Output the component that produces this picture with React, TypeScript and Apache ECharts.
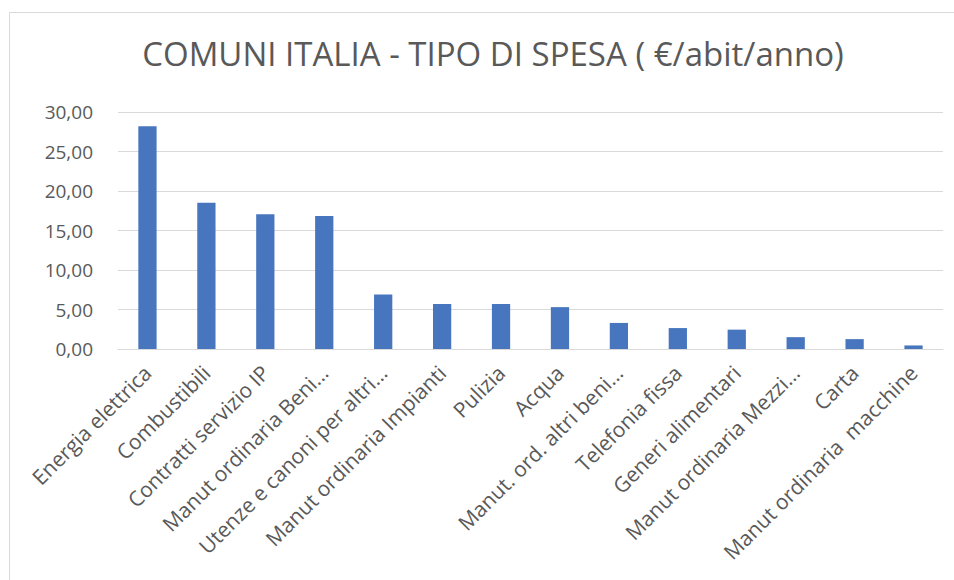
import React, { useEffect, useRef } from "react";
import * as echarts from "echarts";

const titleText = "COMUNI ITALIA - TIPO DI SPESA ( €/abit/anno)";
const categories = [
  "Energia elettrica",
  "Combustibili",
  "Contratti servizio IP",
  "Manut ordinaria Beni…",
  "Utenze e canoni per altri…",
  "Manut ordinaria Impianti",
  "Pulizia",
  "Acqua",
  "Manut. ord. altri beni…",
  "Telefonia fissa",
  "Generi alimentari",
  "Manut ordinaria Mezzi…",
  "Carta",
  "Manut ordinaria  macchine",
];
const values = [28.2, 18.5, 17.05, 16.85, 6.9, 5.7, 5.7, 5.3, 3.3, 2.65, 2.45, 1.5, 1.25, 0.45];
const yMin = 0;
const yMax = 30;
const yStep = 5;

const FONT = "'Open Sans', sans-serif";
const TEXT = "#595959";
const GRID = "#d9d9d9";
const BAR = "#4776bf";

export default function App() {
  const ref = useRef<HTMLDivElement>(null);
  useEffect(() => {
    if (!ref.current) return;
    const chart = echarts.init(ref.current, null, { renderer: "svg" });
    chart.setOption({
      animation: false,
      backgroundColor: "#ffffff",
      title: {
        text: titleText,
        left: 488,
        top: 32,
        textAlign: "center",
        textStyle: { fontFamily: FONT, fontSize: 33, fontWeight: "normal", color: TEXT },
      },
      graphic: [
        {
          type: "rect",
          shape: { x: 9.5, y: 12.5, width: 960, height: 600 },
          style: { fill: "none", stroke: GRID, lineWidth: 1 },
          silent: true,
        },
      ],
      grid: { left: 118, right: 11, top: 112, bottom: 231 },
      xAxis: {
        type: "category",
        data: categories,
        axisLine: { lineStyle: { color: GRID } },
        axisTick: { show: false },
        axisLabel: {
          interval: 0,
          rotate: 45,
          margin: 20,
          color: TEXT,
          fontFamily: FONT,
          fontSize: 21,
        },
      },
      yAxis: {
        type: "value",
        min: yMin,
        max: yMax,
        interval: yStep,
        axisLine: { show: false },
        axisTick: { show: false },
        splitLine: { lineStyle: { color: GRID } },
        axisLabel: {
          margin: 25,
          color: TEXT,
          fontFamily: FONT,
          fontSize: 19,
          formatter: (v: number) => v.toFixed(2).replace(".", ","),
        },
      },
      series: [
        {
          type: "bar",
          data: values,
          barWidth: "31%",
          itemStyle: { color: BAR },
        },
      ],
    });
    return () => chart.dispose();
  }, []);
  return (
    <div
      ref={ref}
      style={{ position: "fixed", left: 0, top: 0, width: 954, height: 580, background: "#fff" }}
    />
  );
}
